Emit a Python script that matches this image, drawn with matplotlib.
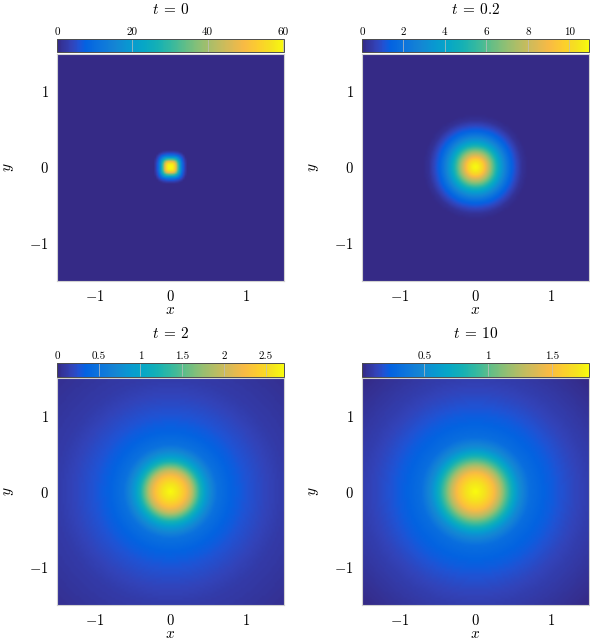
import numpy as np
import matplotlib
matplotlib.use('Agg')
import matplotlib.pyplot as plt
from matplotlib.colors import LinearSegmentedColormap

# LaTeX-like fonts
plt.rcParams['font.family'] = 'serif'
plt.rcParams['font.serif'] = ['cmr10']
plt.rcParams['mathtext.fontset'] = 'cm'
plt.rcParams['axes.formatter.use_mathtext'] = True

# panel data: titles, colour limits and radial profiles
titles = [r'$t\:=\:0$', r'$t\:=\:0.2$', r'$t\:=\:2$', r'$t\:=\:10$']
vmins = [0.0, 0.0, 0.0, 0.01]
vmaxs = [60.3, 10.95, 2.72, 1.79]
cb_ticks = [[0, 20, 40, 60],
            [0, 2, 4, 6, 8, 10],
            [0, 0.5, 1, 1.5, 2, 2.5],
            [0.5, 1, 1.5]]

radii_t0 = [0, 0.04, 0.06, 0.08, 0.10, 0.12, 0.15, 0.18, 0.22, 0.3, 3]
vals_t0 = [60.3, 59.0, 54.0, 45.0, 33.0, 24.0, 12.0, 5.0, 0.0, 0.0, 0.0]

radii_t02 = [0, 0.05, 0.1, 0.15, 0.24, 0.29, 0.35, 0.42, 0.48, 0.55, 0.62, 0.7, 3]
vals_t02 = [10.95, 10.6, 9.8, 8.4, 6.0, 4.7, 3.4, 2.2, 1.4, 0.77, 0.22, 0.0, 0.0]

radii_t2 = [0, 0.1, 0.2, 0.28, 0.33, 0.4, 0.48, 0.62, 0.8, 1.0, 1.25, 1.5, 2.13]
vals_t2 = [2.72, 2.58, 2.31, 1.96, 1.63, 1.22, 0.87, 0.49, 0.35, 0.27, 0.19, 0.12, 0.04]

radii_t10 = [0, 0.12, 0.24, 0.33, 0.4, 0.48, 0.57, 0.72, 0.9, 1.1, 1.3, 1.5, 2.13]
vals_t10 = [1.79, 1.70, 1.51, 1.26, 1.02, 0.78, 0.54, 0.31, 0.24, 0.19, 0.14, 0.10, 0.01]

radii = [radii_t0, radii_t02, radii_t2, radii_t10]
vals = [vals_t0, vals_t02, vals_t2, vals_t10]
norm_p = [3.0, 2.1, 2.0, 2.0]   # shape of the blob (>2 = squarish)

# parula (old MATLAB) colour map, sampled
parula_idx = [0, 4, 6, 7, 8, 12, 16, 20, 24, 28, 32, 36, 40, 44, 48, 52, 56, 60, 63]
parula_rgb = [
    (0.2081, 0.1663, 0.5292), (0.1959, 0.2645, 0.7279), (0.1253, 0.3242, 0.8303),
    (0.0591, 0.3598, 0.8683), (0.0117, 0.3875, 0.8820), (0.0498, 0.4586, 0.8641),
    (0.0793, 0.5200, 0.8312), (0.0343, 0.5966, 0.8199), (0.0228, 0.6535, 0.7768),
    (0.0843, 0.6928, 0.7062), (0.2178, 0.7250, 0.6193), (0.3953, 0.7459, 0.5244),
    (0.5709, 0.7485, 0.4494), (0.7184, 0.7411, 0.3905), (0.8507, 0.7299, 0.3360),
    (0.9739, 0.7314, 0.2666), (0.9880, 0.8066, 0.1794), (0.9589, 0.8949, 0.1132),
    (0.9763, 0.9831, 0.0538)]
parula = LinearSegmentedColormap.from_list(
    'parula', [(i / 63, c) for i, c in zip(parula_idx, parula_rgb)], N=256)

# grid
n = 121
xs = np.linspace(-1.5, 1.5, n)
X, Y = np.meshgrid(xs, xs)

fig = plt.figure(figsize=(5.9, 6.42), dpi=100)
W, H = 590.0, 642.0

# pixel layout
lefts = [57, 362, 57, 362]
img_top = [53.5, 53.5, 378, 378]
img_bot = [281, 281, 605, 605]
cb_top = [39.3, 39.3, 363.3, 363.3]
cb_bot = [51.7, 51.7, 376.7, 376.7]
title_y = [10, 10, 334, 334]
pw = 227

for i in range(4):
    ax = fig.add_axes([lefts[i] / W, 1 - img_bot[i] / H, pw / W,
                       (img_bot[i] - img_top[i]) / H])
    p = norm_p[i]
    r = (np.abs(X) ** p + np.abs(Y) ** p) ** (1 / p)
    field = np.interp(r, radii[i], vals[i])
    im = ax.imshow(field, extent=[-1.5, 1.5, -1.5, 1.5], origin='lower',
                   cmap=parula, vmin=vmins[i], vmax=vmaxs[i],
                   interpolation='bilinear', aspect='auto')
    ax.set_xlim(-1.5, 1.5)
    ax.set_ylim(-1.5, 1.5)
    ax.set_xticks([-1, 0, 1])
    ax.set_yticks([-1, 0, 1])
    ax.set_xticklabels(['$-1$', '$0$', '$1$'])
    ax.set_yticklabels(['$-1$', '$0$', '$1$'])
    ax.tick_params(length=0, labelsize=10.5, pad=6)
    for s in ax.spines.values():
        s.set_color('0.82')
        s.set_linewidth(0.8)
    ax.set_xlabel('$x$', fontsize=11)
    ax.set_ylabel('$y$', fontsize=11)
    ax.xaxis.set_label_coords(0.5, -0.1)
    ax.yaxis.set_label_coords(-0.18, 0.5)

    cax = fig.add_axes([lefts[i] / W, 1 - cb_bot[i] / H, pw / W,
                        (cb_bot[i] - cb_top[i]) / H])
    cb = fig.colorbar(im, cax=cax, orientation='horizontal', ticks=cb_ticks[i])
    cax.xaxis.set_ticks_position('top')
    cax.xaxis.set_label_position('top')
    cb.set_ticklabels(['%g' % v for v in cb_ticks[i]])
    cax.tick_params(direction='in', length=9, width=0.5, color='0.75',
                    labelsize=8, pad=1.5)
    cb.outline.set_edgecolor('0.3')
    cb.outline.set_linewidth(0.7)

    fig.text((lefts[i] + pw / 2) / W, 1 - title_y[i] / H, titles[i],
             ha='center', va='center', fontsize=11)

fig.savefig('out.png', dpi=100)
